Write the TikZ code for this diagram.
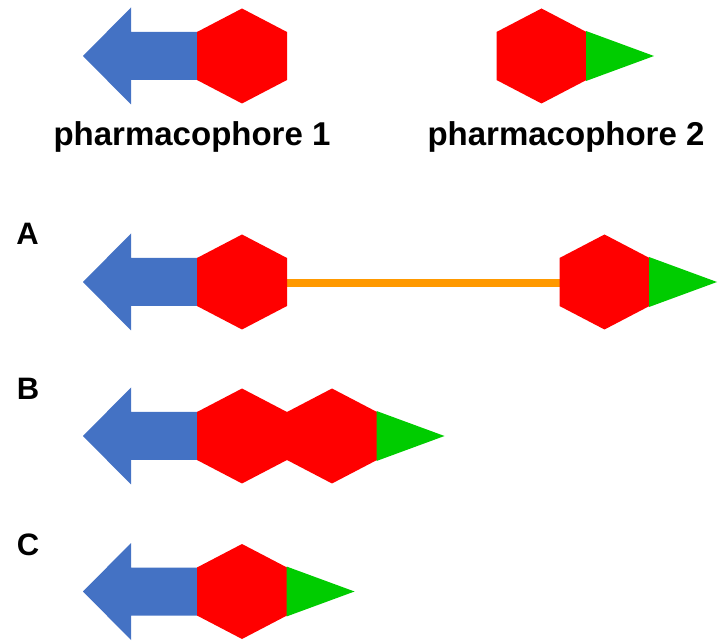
\documentclass[tikz,border=0pt]{standalone}
\usepackage{fontspec}
\setmainfont{Liberation Sans}
\definecolor{arrowblue}{RGB}{68,114,196}
\definecolor{hexred}{RGB}{255,0,0}
\definecolor{tipgreen}{RGB}{0,204,0}
\definecolor{linkorange}{RGB}{255,153,0}
\tikzset{
  hexa/.pic={\fill[hexred] (-45,-24) -- (0,-47.5) -- (45,-24) -- (45,24) -- (0,47.5) -- (-45,24) -- cycle;},
  bluearrow/.pic={\fill[arrowblue] (1,-24) -- (-66,-24) -- (-66,-48.5) -- (-114,0) -- (-66,48.5) -- (-66,24) -- (1,24) -- cycle;},
  greentip/.pic={\fill[tipgreen] (-0.5,-25) -- (67.5,0) -- (-0.5,25) -- cycle;},
  lbl/.style={font=\fontsize{33}{38}\selectfont\bfseries, anchor=base, inner sep=0pt},
  letter/.style={font=\fontsize{31}{36}\selectfont\bfseries, anchor=base, inner sep=0pt},
  link/.style={draw=linkorange, line width=8pt}
}
\begin{document}
\begin{tikzpicture}[x=1pt,y=-1pt]
\useasboundingbox (0,0) rectangle (721,644);
% top row: pharmacophore 1
\pic at (197,56) {bluearrow};
\pic at (242,56) {hexa};
% pharmacophore 2
\pic at (541.5,56) {hexa};
\pic at (586.5,56) {greentip};
\node[lbl] (p1) at (192,145.5) {pharmacophore 1};
\node[lbl] (p2) at (566,146) {pharmacophore 2};
% row A
\node[letter] (la) at (27.5,245) {A};
\coordinate (aL) at (286,283);
\coordinate (aR) at (561,283);
\draw[link] (aL) -- (aR);
\pic at (197,282) {bluearrow};
\pic at (242,282) {hexa};
\pic at (604.5,282) {hexa};
\pic at (649.5,282) {greentip};
% row B
\node[letter] (lb) at (28,400) {B};
\pic at (197,436) {bluearrow};
\pic at (242,436) {hexa};
\pic at (332,436) {hexa};
\pic at (377,436) {greentip};
% row C
\node[letter] (lc) at (28,555) {C};
\pic at (197,591.5) {bluearrow};
\pic at (242,591.5) {hexa};
\pic at (287,591.5) {greentip};
\end{tikzpicture}
\end{document}
